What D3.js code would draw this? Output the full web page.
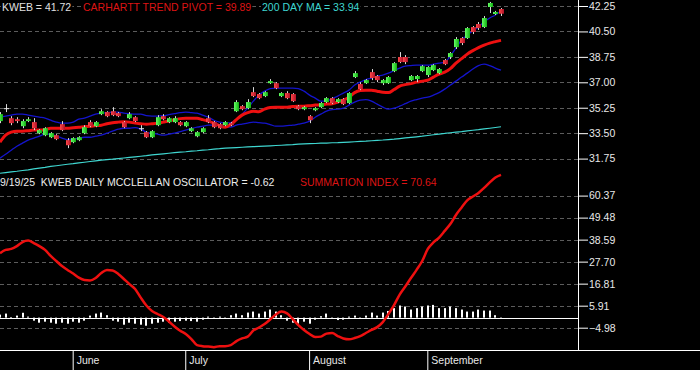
<!DOCTYPE html>
<html>
<head>
<meta charset="utf-8">
<script src="https://cdn.jsdelivr.net/npm/d3@7"></script>
<style>
  body { margin: 0; background: #000; }
  svg { display: block; font-family: "Liberation Sans", Arial, sans-serif; }
</style>
</head>
<body>
<div id="chart"></div>
<script>
// DATA
// trading calendar (weekdays minus market holidays)
const firstDay = "2025-05-13";
const lastDay = "2025-09-19";
const holidays = ["2025-05-26", "2025-06-19", "2025-07-04", "2025-09-01"];
const monthStarts = ["2025-06-02", "2025-07-01", "2025-08-01", "2025-09-02"];

const priceTicks = [42.25, 40.50, 38.75, 37.00, 35.25, 33.50, 31.75];
const oscTicks = [60.37, 49.48, 38.59, 27.70, 16.81, 5.91, -4.98];

const opens = [34.33,35.22,34.53,34.46,33.98,34.33,34.26,33.50,33.36,33.22,
  33.36,34.12,33.02,32.88,33.02,33.50,34.26,33.98,34.81,34.95,
  35.01,34.88,34.26,34.53,34.60,33.84,33.57,33.22,34.05,34.67,
  34.26,34.26,34.26,33.98,33.64,33.29,33.57,34.53,34.26,34.12,
  34.05,34.19,35.01,35.36,35.22,36.32,36.19,36.05,36.94,36.94,
  36.05,36.26,36.19,35.36,35.15,34.67,35.08,35.29,35.64,35.91,
  35.64,35.84,35.57,37.36,36.88,36.94,37.70,37.43,36.94,36.94,
  37.77,38.74,38.74,37.15,37.22,37.77,37.50,37.84,37.63,38.53,
  38.74,39.42,40.04,40.04,40.80,41.01,40.80,42.18,41.70,42.04];
const highs = [34.95,35.50,34.67,34.60,34.46,34.60,34.53,33.77,33.91,33.57,
  33.43,34.33,33.16,33.22,33.29,34.05,34.39,34.33,35.15,35.01,
  35.29,34.95,34.33,34.95,34.67,34.05,33.64,33.71,34.74,34.81,
  34.60,34.67,34.33,34.33,33.91,33.64,33.91,34.74,34.33,34.19,
  34.33,34.26,35.77,35.43,35.84,36.67,36.26,36.39,37.22,37.01,
  36.32,36.39,36.26,35.43,35.36,34.74,35.29,35.64,35.98,35.98,
  35.91,35.91,36.32,37.77,37.01,37.22,37.91,37.50,37.22,37.43,
  38.39,39.08,38.87,37.50,37.50,38.18,38.11,38.25,37.98,38.60,
  39.08,40.11,40.11,40.80,40.87,41.15,41.56,42.53,41.91,42.11];
const lows = [34.19,34.95,34.05,34.19,33.84,34.26,33.71,33.43,33.29,33.16,
  33.02,33.64,32.47,32.81,32.95,33.43,33.91,33.91,34.74,34.60,
  34.67,34.60,33.84,34.46,34.26,33.64,33.16,33.16,33.98,34.39,
  34.19,34.19,33.98,33.91,33.57,33.22,33.50,34.19,33.84,33.77,
  33.98,33.98,34.95,35.08,35.15,35.98,35.84,35.98,36.88,36.53,
  35.98,35.84,35.64,35.08,35.08,34.19,35.01,35.22,35.57,35.50,
  35.57,35.43,35.50,37.29,36.46,36.88,37.15,37.01,36.81,36.88,
  37.70,38.32,38.25,37.08,37.01,37.70,37.36,37.77,37.56,38.18,
  38.60,39.29,39.56,39.98,40.32,40.60,40.73,41.77,41.63,41.56];
const closes = [34.81,35.22,34.19,34.33,34.33,34.46,33.84,33.71,33.84,33.50,
  33.09,33.71,32.67,33.16,33.22,33.91,33.98,34.26,35.01,34.67,
  34.74,34.67,33.91,34.81,34.33,33.84,33.22,33.64,34.60,34.46,
  34.53,34.53,34.05,34.26,33.84,33.57,33.84,34.26,33.91,33.84,
  34.26,34.05,35.64,35.15,35.64,36.05,35.91,36.32,37.08,36.60,
  36.26,35.91,35.70,35.15,35.29,34.39,35.22,35.57,35.91,35.57,
  35.84,35.50,36.26,37.63,36.53,37.15,37.29,37.15,37.15,37.36,
  38.32,38.39,38.39,37.43,37.43,38.11,38.05,38.18,37.91,38.25,
  39.01,39.98,39.70,40.73,40.46,40.73,41.42,42.46,41.84,41.72];

// Carhartt trend pivot (thick red)
const pivot = [32.88,33.36,33.57,33.64,33.64,33.67,33.71,33.71,33.74,33.84,
  33.84,33.84,33.84,33.88,33.91,33.95,33.98,34.02,34.05,34.15,
  34.22,34.26,34.29,34.26,34.19,34.15,34.12,34.15,34.19,34.26,
  34.33,34.43,34.50,34.53,34.53,34.53,34.43,34.33,34.19,34.02,
  33.91,34.09,34.43,34.74,34.91,35.01,34.98,35.15,35.26,35.29,
  35.29,35.29,35.33,35.36,35.36,35.39,35.43,35.46,35.50,35.53,
  35.64,35.77,35.98,36.29,36.43,36.46,36.46,36.39,36.32,36.29,
  36.50,36.74,36.84,36.91,37.01,37.08,37.15,37.36,37.56,37.70,
  37.94,38.32,38.63,38.94,39.18,39.39,39.56,39.70,39.80,39.89];
// pivot bands (blue)
const upperBand = [34.60,34.67,34.74,34.81,34.81,34.74,34.67,34.60,34.53,34.39,
  34.26,34.19,34.19,34.26,34.46,34.53,34.67,34.81,34.88,34.91,
  34.95,34.95,34.88,34.84,34.81,34.81,34.70,34.67,34.67,34.70,
  34.77,34.84,34.91,34.95,34.91,34.88,34.74,34.60,34.39,34.26,
  34.19,34.22,34.46,34.81,35.22,35.70,36.12,36.39,36.57,36.60,
  36.60,36.60,36.60,36.57,36.39,36.12,35.91,35.70,35.70,35.88,
  36.05,36.26,36.46,36.81,37.01,37.19,37.29,37.43,37.50,37.63,
  37.81,37.98,38.11,38.15,38.18,38.18,38.18,38.25,38.32,38.39,
  38.80,39.36,39.91,40.25,40.53,40.80,41.15,41.42,41.63,41.90];
const lowerBand = [31.78,32.05,32.33,32.60,32.81,33.02,33.16,33.29,33.43,33.43,
  33.29,33.16,33.05,33.09,33.16,33.22,33.22,33.29,33.36,33.50,
  33.64,33.77,33.84,33.84,33.88,33.77,33.57,33.50,33.43,33.36,
  33.43,33.50,33.60,33.71,33.81,33.91,33.98,34.05,34.05,34.02,
  33.91,33.91,34.05,34.12,34.19,34.26,34.22,34.19,34.09,33.98,
  33.98,34.02,34.05,34.12,34.19,34.33,34.60,34.81,35.01,35.12,
  35.15,35.22,35.43,35.64,35.77,35.81,35.70,35.50,35.29,35.15,
  35.22,35.36,35.53,35.70,35.81,35.91,35.98,36.12,36.29,36.53,
  36.81,37.08,37.36,37.63,37.91,38.15,38.25,38.15,37.98,37.84];
// 200 day moving average (cyan)
const ma200 = [30.74,30.79,30.84,30.88,30.93,30.98,31.04,31.10,31.15,31.21,
  31.26,31.31,31.36,31.40,31.45,31.50,31.55,31.60,31.64,31.68,
  31.71,31.75,31.79,31.83,31.87,31.91,31.95,32.00,32.04,32.08,
  32.12,32.16,32.19,32.22,32.26,32.29,32.33,32.36,32.40,32.43,
  32.47,32.49,32.51,32.53,32.55,32.57,32.59,32.61,32.63,32.65,
  32.67,32.69,32.71,32.74,32.76,32.78,32.79,32.81,32.82,32.84,
  32.85,32.87,32.89,32.91,32.93,32.95,32.98,33.01,33.03,33.06,
  33.09,33.13,33.17,33.21,33.25,33.29,33.34,33.39,33.44,33.48,
  33.53,33.57,33.61,33.66,33.70,33.74,33.79,33.84,33.89,33.94];

// McClellan oscillator (white bars) and summation index (red)
const oscillator = [1.5,2,0.3,1,2.4,0.5,-1.5,-2.5,-2,-2.5,
  -3,-2.5,-3,-2,-2.5,-1.5,1,2,2.5,1.2,
  -1.5,-2,-3.5,-2.5,-3,-3.5,-4,-3,-2.5,-2,
  -2.5,-2,-1.7,-1.5,-1.7,-2,-1,0.5,-0.6,0.5,
  -0.5,1.2,2,1.2,2.5,3,2,3,4,3,
  1.2,-1.5,-2.5,-3,-2,-3,-1,0.7,2,-0.5,
  -1.2,-1,0.5,1,-0.5,1,2.5,1,2.5,3.3,
  4.7,6,5.5,4,4.7,5.5,6,6.3,4.7,4.7,
  5.5,4.7,4,3,3,4,3.5,3.5,1.2,-0.62];
const summation = [31.8,33.5,34.0,35.4,37.4,38.1,36.9,35.4,33.5,30.5,
  28.0,25.5,23.6,21.8,19.8,18.6,18.4,19.6,22.1,23.6,
  23.3,21.6,19.1,16.6,14.2,9.9,6.0,3.3,1.8,0.3,
  -1.9,-4.4,-6.5,-8.1,-10.6,-13.6,-14.1,-14.3,-14.6,-14.1,
  -14.1,-13.6,-11.6,-10.3,-9.4,-6.4,-4.9,-3.2,-0.9,1.5,
  3.0,2.1,-0.7,-3.7,-6.1,-8.1,-9.6,-9.4,-7.9,-7.6,
  -9.1,-10.3,-10.7,-10.1,-9.1,-7.6,-6.1,-4.7,-2.2,1.8,
  6.2,11.4,15.4,19.6,23.6,28.0,34.0,37.2,39.6,42.9,
  46.3,50.8,54.5,58.0,59.9,61.7,64.2,66.9,69.3,70.64];

// SVG
const W = 700, H = 370;
const axisX = 578;      // right axis line
const plotBottom = 350; // top of month strip

const parse = d3.timeParse("%Y-%m-%d");
const fmt = d3.timeFormat("%Y-%m-%d");
const holidaySet = new Set(holidays);
const days = d3.timeDay.range(parse(firstDay), d3.timeDay.offset(parse(lastDay), 1))
  .filter(d => d.getDay() !== 0 && d.getDay() !== 6 && !holidaySet.has(fmt(d)))
  .map(fmt);

const bars = days.map((d, i) => ({
  date: d, open: opens[i], high: highs[i], low: lows[i], close: closes[i],
  pivot: pivot[i], upper: upperBand[i], lower: lowerBand[i], ma: ma200[i],
  osc: oscillator[i], sum: summation[i]
}));

const svg = d3.select("#chart").append("svg")
  .attr("width", W).attr("height", H)
  .style("background", "#000");

const defs = svg.append("defs");
const gUp = defs.append("linearGradient").attr("id", "gUp").attr("x1", 0).attr("x2", 1);
gUp.append("stop").attr("offset", 0).attr("stop-color", "#66ff66");
gUp.append("stop").attr("offset", 1).attr("stop-color", "#10b010");
const gDn = defs.append("linearGradient").attr("id", "gDn").attr("x1", 0).attr("x2", 1);
gDn.append("stop").attr("offset", 0).attr("stop-color", "#ff4848");
gDn.append("stop").attr("offset", 1).attr("stop-color", "#b01028");

// SCALES
const xs = d3.scalePoint().domain(days).range([0, 501]);
const yp = d3.scaleLinear().domain([31.75, 42.25]).range([158.6, 6]);
const yo = d3.scaleLinear().domain([-4.98, 60.37]).range([327.7, 195.6]);

// GRID
const grid = svg.append("g").attr("stroke", "#5c5c5c").attr("stroke-dasharray", "4,3");
grid.selectAll(".gp").data(priceTicks).join("line")
  .attr("x1", 0).attr("x2", axisX)
  .attr("y1", d => Math.round(yp(d)) + 0.5).attr("y2", d => Math.round(yp(d)) + 0.5);
grid.selectAll(".go").data(oscTicks).join("line")
  .attr("x1", 0).attr("x2", axisX)
  .attr("y1", d => Math.round(yo(d)) + 0.5).attr("y2", d => Math.round(yo(d)) + 0.5);

// UPPER PANEL
const upper = svg.append("g");
const line = key => d3.line().x(d => xs(d.date)).y(d => yp(d[key]));

upper.append("path").datum(bars)
  .attr("fill", "none").attr("stroke", "#3fd6d0").attr("stroke-width", 1.2)
  .attr("d", line("ma"));
upper.append("path").datum(bars)
  .attr("fill", "none").attr("stroke", "#1414cc").attr("stroke-width", 1.3)
  .attr("d", line("upper").curve(d3.curveMonotoneX));
upper.append("path").datum(bars)
  .attr("fill", "none").attr("stroke", "#1414cc").attr("stroke-width", 1.3)
  .attr("d", line("lower").curve(d3.curveMonotoneX));
upper.append("path").datum(bars)
  .attr("fill", "none").attr("stroke", "#ee1010").attr("stroke-width", 3)
  .attr("d", line("pivot").curve(d3.curveMonotoneX));

// candles
const candle = upper.selectAll(".candle").data(bars).join("g").attr("class", "candle");
candle.append("line")
  .attr("x1", d => Math.round(xs(d.date)) + 0.5).attr("x2", d => Math.round(xs(d.date)) + 0.5)
  .attr("y1", d => yp(d.high)).attr("y2", d => yp(d.low))
  .attr("stroke", "#d8d8d8").attr("stroke-width", 1);
candle.append("rect")
  .attr("x", d => Math.round(xs(d.date)) - 2)
  .attr("width", 5)
  .attr("y", d => yp(Math.max(d.open, d.close)))
  .attr("height", d => Math.max(1, Math.abs(yp(d.open) - yp(d.close))))
  .attr("fill", d => d.close > d.open ? "url(#gUp)" : d.close < d.open ? "url(#gDn)" : "#e8e8e8");

// LOWER PANEL
const lower = svg.append("g");
lower.append("line")
  .attr("x1", 0).attr("x2", axisX)
  .attr("y1", Math.round(yo(0)) + 0.5).attr("y2", Math.round(yo(0)) + 0.5)
  .attr("stroke", "#fff");
lower.selectAll(".osc").data(bars).join("rect")
  .attr("x", d => Math.round(xs(d.date)) - 1)
  .attr("width", 2)
  .attr("y", d => Math.min(yo(0), yo(d.osc)))
  .attr("height", d => Math.abs(yo(d.osc) - yo(0)))
  .attr("fill", "#fff");
lower.append("path").datum(bars)
  .attr("fill", "none").attr("stroke", "#ee1010").attr("stroke-width", 2.5)
  .attr("d", d3.line().x(d => xs(d.date)).y(d => yo(d.sum)).curve(d3.curveMonotoneX));

// AXES
svg.append("line")
  .attr("x1", axisX + 0.5).attr("x2", axisX + 0.5).attr("y1", 0).attr("y2", plotBottom)
  .attr("stroke", "#fff");
svg.append("line")
  .attr("x1", 0).attr("x2", W).attr("y1", plotBottom + 0.5).attr("y2", plotBottom + 0.5)
  .attr("stroke", "#fff");

function rightAxis(scale, ticks, minors) {
  const g = svg.append("g").attr("transform", `translate(${axisX},0)`);
  g.call(d3.axisRight(scale).tickValues(minors).tickSize(5).tickFormat(""));
  g.call(d3.axisRight(scale).tickValues(ticks).tickSize(10).tickPadding(1)
    .tickFormat(d3.format(".2f")));
  g.select(".domain").remove();
  g.selectAll("line").attr("stroke", "#fff");
  g.selectAll("text").attr("fill", "#e8e8e8").style("font-size", "10.5px")
    .style("font-family", '"Liberation Sans", Arial, sans-serif');
}
const mids = t => d3.pairs(t).map(([a, b]) => (a + b) / 2);
rightAxis(yp, priceTicks, mids(priceTicks).concat([priceTicks[6] - 0.875]));
rightAxis(yo, oscTicks, mids(oscTicks).concat([oscTicks[0] + 5.445]));

// month strip
const mAxis = svg.append("g").attr("transform", `translate(0,${plotBottom})`)
  .call(d3.axisBottom(xs).tickValues(monthStarts).tickSize(20)
    .tickFormat(d => d3.timeFormat("%B")(parse(d))));
mAxis.select(".domain").remove();
mAxis.selectAll("line").attr("stroke", "#fff").attr("transform", "translate(-0.5,0)");
mAxis.selectAll("text").attr("fill", "#e8e8e8").attr("text-anchor", "start")
  .attr("x", 3).attr("y", 14).attr("dy", 0)
  .style("font-size", "10.5px").style("font-family", '"Liberation Sans", Arial, sans-serif');

// TITLES
function label(x, y, txt, color) {
  const t = svg.append("text").attr("x", x).attr("y", y)
    .attr("fill", color).style("font-size", "10.5px").style("white-space", "pre").text(txt);
  const b = t.node().getBBox();
  svg.insert("rect", () => t.node())
    .attr("x", b.x - 1).attr("y", b.y).attr("width", b.width + 2).attr("height", b.height)
    .attr("fill", "#000");
}
label(2, 10.5, "KWEB = 41.72", "#e0e0e0");
label(83, 10.5, "CARHARTT TREND PIVOT = 39.89", "#dd1414");
label(262, 10.5, "200 DAY MA = 33.94", "#3fd6d0");
label(0, 185.5, "9/19/25  KWEB DAILY MCCLELLAN OSCILLATOR = -0.62", "#ececec");
label(300, 185.5, "SUMMATION INDEX = 70.64", "#dd1414");
</script>
</body>
</html>
